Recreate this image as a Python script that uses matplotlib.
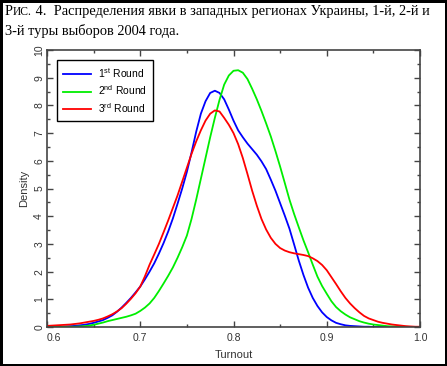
import numpy as np
import matplotlib
matplotlib.use('Agg')
import matplotlib.pyplot as plt
from matplotlib.patches import Rectangle
from matplotlib.ticker import MultipleLocator

plt.rcParams['font.family'] = ['Liberation Sans', 'DejaVu Sans']
plt.rcParams['mathtext.default'] = 'regular'

# turnout grid (step 0.005) and densities
turnout = np.linspace(0.6, 1.0, 81)

round1 = [0.00, 0.00, 0.01, 0.01, 0.02, 0.03, 0.04, 0.06, 0.08, 0.11,
          0.15, 0.20, 0.25, 0.33, 0.42, 0.55, 0.70, 0.87, 1.05, 1.25,
          1.46, 1.72, 2.00, 2.30, 2.65, 3.03, 3.45, 3.92, 4.45, 5.00,
          5.60, 6.30, 7.05, 7.70, 8.15, 8.45, 8.53, 8.45, 8.22, 7.85,
          7.45, 7.10, 6.85, 6.62, 6.42, 6.22, 5.98, 5.70, 5.32, 4.92,
          4.47, 4.02, 3.55, 2.98, 2.40, 1.88, 1.42, 1.05, 0.76, 0.53,
          0.36, 0.24, 0.15, 0.10, 0.06, 0.04, 0.03, 0.02, 0.01, 0.01,
          0.00, 0.00, 0.00, 0.00, 0.00, 0.00, 0.00, 0.00, 0.00, 0.00,
          0.00]
round2 = [0.00, 0.00, 0.00, 0.00, 0.01, 0.01, 0.01, 0.02, 0.03, 0.05,
          0.08, 0.12, 0.16, 0.21, 0.25, 0.29, 0.33, 0.37, 0.42, 0.48,
          0.58, 0.70, 0.85, 1.05, 1.30, 1.57, 1.85, 2.15, 2.50, 2.88,
          3.30, 3.90, 4.60, 5.35, 6.10, 6.85, 7.55, 8.20, 8.75, 9.08,
          9.25, 9.27, 9.18, 8.95, 8.60, 8.22, 7.80, 7.35, 6.88, 6.35,
          5.79, 5.20, 4.60, 4.08, 3.60, 3.13, 2.70, 2.25, 1.82, 1.48,
          1.20, 0.93, 0.72, 0.57, 0.45, 0.35, 0.28, 0.21, 0.16, 0.12,
          0.09, 0.07, 0.05, 0.03, 0.02, 0.02, 0.01, 0.01, 0.00, 0.00,
          0.00]
round3 = [0.04, 0.05, 0.06, 0.07, 0.08, 0.09, 0.11, 0.13, 0.16, 0.19,
          0.22, 0.26, 0.31, 0.38, 0.46, 0.56, 0.68, 0.84, 1.02, 1.22,
          1.46, 1.83, 2.25, 2.62, 3.00, 3.42, 3.85, 4.30, 4.75, 5.25,
          5.75, 6.25, 6.70, 7.10, 7.45, 7.70, 7.82, 7.78, 7.55, 7.30,
          7.00, 6.60, 6.10, 5.52, 4.92, 4.38, 3.90, 3.52, 3.22, 3.00,
          2.85, 2.76, 2.70, 2.66, 2.63, 2.60, 2.56, 2.48, 2.38, 2.24,
          2.05, 1.80, 1.55, 1.29, 1.05, 0.85, 0.68, 0.53, 0.40, 0.31,
          0.25, 0.19, 0.15, 0.12, 0.09, 0.07, 0.05, 0.03, 0.02, 0.01,
          0.01]

labels = [r'1$^{st}$ Round', r'2$^{nd}$ Round', r'3$^{rd}$ Round']
colors = ['#0000ff', '#00ee00', '#ff0000']

fig = plt.figure(figsize=(4.47, 3.66), dpi=100)
ax = fig.add_axes([47/447, 39/366, 373/447, 277/366])

for y, lab, c in zip([round1, round2, round3], labels, colors):
    ax.plot(turnout, y, color=c, lw=1.3, label=lab)

ax.set_xlim(0.6, 1.0)
ax.set_ylim(0, 10)
ax.xaxis.set_minor_locator(MultipleLocator(0.05))
ax.yaxis.set_major_locator(MultipleLocator(1))
ax.yaxis.set_minor_locator(MultipleLocator(0.5))
ax.set_xticks([0.6, 0.7, 0.8, 0.9, 1.0])
ax.set_xticklabels(['0.6', '0.7', '0.8', '0.9', '1.0'])
ax.tick_params(which='both', direction='in', top=True, right=True,
               colors='#444444', labelcolor='#333333', labelsize=7.5)
ax.tick_params(which='major', length=4, width=1)
ax.tick_params(which='minor', length=2.5, width=1)
ax.tick_params(axis='x', pad=4)
ax.tick_params(axis='y', pad=2)
for t in ax.get_yticklabels():
    t.set_rotation(90)
    t.set_va('center')
ax.get_xticklabels()[0].set_ha('left')
for s in ax.spines.values():
    s.set_color('#444444')
    s.set_linewidth(1.2)

ax.set_xlabel('Turnout', fontsize=8, color='#333333', labelpad=5)
ax.set_ylabel('Density', fontsize=8, color='#333333', labelpad=4)

leg = ax.legend(loc='upper left', bbox_to_anchor=(0.027, 0.964),
                borderaxespad=0, fancybox=False, edgecolor='black',
                framealpha=1, fontsize=7.5, handlelength=2.7,
                labelspacing=0.35, borderpad=0.6, handletextpad=0.6)
leg.get_frame().set_linewidth(1.0)

# caption with small caps for "Рис."
serif = ['Liberation Serif', 'DejaVu Serif']
fs = 10.4
fig.canvas.draw()
r = fig.canvas.get_renderer()
y1 = 1 - 15/366
t1 = fig.text(5/447, y1, 'Р', family=serif, fontsize=fs, va='baseline')
bb = t1.get_window_extent(r)
t2 = fig.text(bb.x1/447, y1, 'ИС.', family=serif, fontsize=fs*0.8, va='baseline')
bb = t2.get_window_extent(r)
fig.text(bb.x1/447, y1, ' 4.  Распределения явки в западных регионах Украины, 1-й, 2-й и',
         family=serif, fontsize=fs, va='baseline')
fig.text(5/447, 1 - 35/366, '3-й туры выборов 2004 года.',
         family=serif, fontsize=fs, va='baseline')

fig.patches.append(Rectangle((0, 0), 1, 1, transform=fig.transFigure,
                             fill=False, edgecolor='black', lw=3.6))

fig.savefig('out.png', dpi=100)
